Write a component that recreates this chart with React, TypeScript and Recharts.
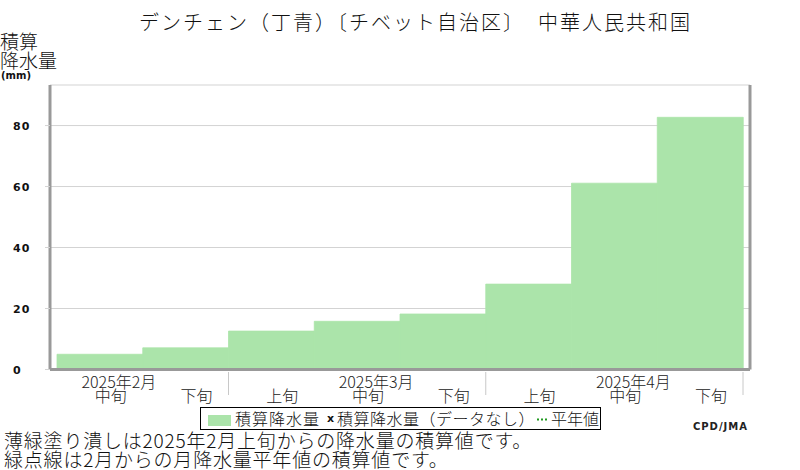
import React from "react";
import { Bar, BarChart, CartesianGrid, XAxis, YAxis } from "recharts";

const JP = '"Noto Sans CJK JP", "Noto Sans", sans-serif';

const periods = ["中旬", "下旬", "上旬", "中旬", "下旬", "上旬", "中旬", "下旬"];
const monthLabels = ["2025年2月", "", "", "2025年3月", "", "", "2025年4月", ""];
const monthGroup = [2, 2, 3, 3, 3, 4, 4, 4];
const totals = [5.0, 7.1, 12.6, 15.8, 18.2, 28.0, 61.1, 82.7];
const yTicks = [0, 20, 40, 60, 80];
const Y_MAX = 93.3;

const data = periods.map((p, i) => ({
  key: i,
  period: p,
  month: monthLabels[i],
  total: totals[i],
}));

const ValueTick = (props: any) => {
  const { y, payload } = props;
  return (
    <text
      x={13}
      y={y}
      dy={4}
      fontFamily="DejaVu Sans"
      fontWeight="bold"
      fontSize={11}
      letterSpacing={1}
      fill="#111"
    >
      {payload.value}
    </text>
  );
};

const PeriodTick = (props: any) => {
  const { x, y, payload } = props;
  const i = payload.index ?? props.index;
  const d = data[i];
  const half = payload.offset || 42.875;
  const sepLeft = i > 0 && monthGroup[i] !== monthGroup[i - 1];
  const sepRight = i === data.length - 1;
  return (
    <g>
      {sepLeft && (
        <line x1={x - half} x2={x - half} y1={y + 2.5} y2={y + 25.5} stroke="#c8c8c8" />
      )}
      {sepRight && (
        <line x1={x + half} x2={x + half} y1={y + 2.5} y2={y + 25.5} stroke="#c8c8c8" />
      )}
      {d.month && (
        <text x={x + 19} y={y + 18.5} textAnchor="middle" fontFamily={JP} fontWeight={300} fontSize={16} fill="#222">
          {d.month}
        </text>
      )}
      <text x={x + 11} y={y + 32} textAnchor="middle" fontFamily={JP} fontWeight={300} fontSize={16} fill="#222">
        {d.period}
      </text>
    </g>
  );
};

export default function App() {
  return (
    <div
      style={{
        position: "absolute",
        left: 0,
        top: 0,
        width: 800,
        height: 470,
        background: "#fff",
        fontFamily: JP,
        fontWeight: 300,
        color: "#111",
      }}
    >
      <div
        style={{
          position: "absolute",
          left: 0,
          width: 831,
          top: 12,
          textAlign: "center",
          fontSize: 20,
          lineHeight: "20px",
          letterSpacing: 2,
          whiteSpace: "nowrap",
        }}
      >
        デンチェン（丁青）〔チベット自治区〕&nbsp;&nbsp;中華人民共和国
      </div>
      <div style={{ position: "absolute", left: 0, top: 31, fontSize: 19, lineHeight: "19px" }}>
        積算
        <br />
        降水量
      </div>
      <div
        style={{
          position: "absolute",
          left: 1,
          top: 70,
          fontSize: 10,
          fontWeight: "bold",
          fontFamily: "DejaVu Sans",
          lineHeight: "11px",
        }}
      >
        (mm)
      </div>

      <BarChart
        width={800}
        height={470}
        data={data}
        margin={{ top: 85, right: 0, bottom: 70.5, left: 10 }}
        barCategoryGap={0}
        barGap={0}
      >
        <CartesianGrid vertical={false} stroke="#d3d3d3" />
        <XAxis
          dataKey="key"
          interval={0}
          height={30}
          tickSize={0}
          tickMargin={0}
          tickLine={false}
          padding={{ left: 7, right: 7 }}
          axisLine={{ stroke: "#999", strokeWidth: 3 }}
          tick={<PeriodTick />}
        />
        <YAxis
          domain={[0, Y_MAX]}
          ticks={yTicks}
          width={40}
          tickSize={5}
          tickLine={{ stroke: "#d3d3d3" }}
          axisLine={{ stroke: "#999", strokeWidth: 3 }}
          tick={<ValueTick />}
        />
        <YAxis
          yAxisId="r"
          orientation="right"
          domain={[0, Y_MAX]}
          width={50}
          tick={false}
          tickLine={false}
          axisLine={{ stroke: "#999", strokeWidth: 3 }}
        />
        <Bar
          dataKey="total"
          fill="#abe4aa"
          stroke="#abe4aa"
          strokeWidth={0.8}
          isAnimationActive={false}
        />
      </BarChart>

      <div
        style={{
          position: "absolute",
          left: 200,
          top: 407,
          width: 399,
          height: 21,
          border: "1px solid #000",
          fontSize: 16,
          lineHeight: "21px",
          whiteSpace: "nowrap",
        }}
      >
        <span
          style={{ position: "absolute", left: 7, top: 7, width: 23, height: 11, background: "#abe4aa" }}
        />
        <span style={{ position: "absolute", left: 34, top: 0, letterSpacing: 1 }}>積算降水量</span>
        <span
          style={{
            position: "absolute",
            left: 126,
            top: 0,
            fontSize: 11,
            fontWeight: "bold",
            fontFamily: "DejaVu Sans",
          }}
        >
          x
        </span>
        <span style={{ position: "absolute", left: 136, top: 0, letterSpacing: 0.5 }}>
          積算降水量（データなし）
        </span>
        <svg style={{ position: "absolute", left: 336, top: 10 }} width={12} height={3}>
          <line x1={0} x2={12} y1={1.5} y2={1.5} stroke="#1f9a1f" strokeWidth={2} strokeDasharray="2 2" />
        </svg>
        <span style={{ position: "absolute", left: 350, top: 0 }}>平年値</span>
      </div>

      <div
        style={{
          position: "absolute",
          right: 52,
          top: 421,
          fontSize: 10,
          fontWeight: "bold",
          fontFamily: "DejaVu Sans",
          letterSpacing: 1,
          color: "#222",
        }}
      >
        CPD/JMA
      </div>

      <div
        style={{
          position: "absolute",
          left: 4,
          top: 430,
          fontSize: 19,
          lineHeight: "19px",
          letterSpacing: 0.8,
          whiteSpace: "nowrap",
        }}
      >
        薄緑塗り潰しは2025年2月上旬からの降水量の積算値です。
        <br />
        緑点線は2月からの月降水量平年値の積算値です。
      </div>
    </div>
  );
}
